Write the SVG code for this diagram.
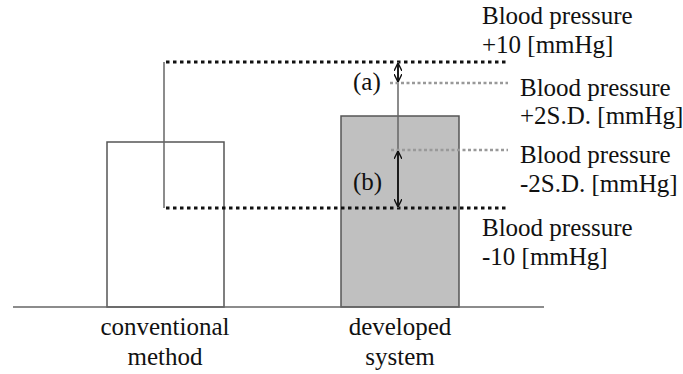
<svg xmlns="http://www.w3.org/2000/svg" width="683" height="374" viewBox="0 0 683 374">
<defs>
<style>
.bar{stroke:#555;stroke-width:1.5}
.thin{stroke:#666;stroke-width:1.5;fill:none}
.bdot{stroke:#111;stroke-width:3;stroke-dasharray:3.5 3.5;fill:none}
.gdot{stroke:#999;stroke-width:2.5;stroke-dasharray:3 2.5;fill:none}
.arr{stroke:#111;stroke-width:1.8;fill:none;marker-start:url(#ah);marker-end:url(#ah)}
</style>
<marker id="ah" viewBox="0 0 10 10" refX="10" refY="5" markerWidth="8" markerHeight="8" markerUnits="userSpaceOnUse" orient="auto-start-reverse">
<path d="M0,0 L10,5 L0,10" fill="none" stroke="#111" stroke-width="1.8"/>
</marker>
</defs>
<rect width="683" height="374" fill="#fff"/>
<g id="conventional">
<rect class="bar" x="107" y="142" width="117" height="165" fill="#fff"/>
<text x="165" y="335" font-family="Liberation Serif" font-size="25" fill="#111" text-anchor="middle">conventional</text>
<text x="165" y="365" font-family="Liberation Serif" font-size="25" fill="#111" text-anchor="middle">method</text>
</g>
<g id="developed">
<rect class="bar" x="341" y="116" width="118" height="191" fill="#c0c0c0"/>
<text x="400" y="335" font-family="Liberation Serif" font-size="25" fill="#111" text-anchor="middle">developed</text>
<text x="400" y="365" font-family="Liberation Serif" font-size="25" fill="#111" text-anchor="middle">system</text>
</g>
<g id="connectors">
<line class="thin" x1="13" y1="307" x2="544" y2="307"/>
<line class="thin" x1="164" y1="62" x2="164" y2="208"/>
<line class="bdot" x1="166" y1="62" x2="508" y2="62"/>
<line class="bdot" x1="166" y1="208" x2="508" y2="208"/>
<line class="thin" x1="398" y1="62" x2="398" y2="208"/>
<line class="gdot" x1="390" y1="83" x2="508" y2="83"/>
<line class="gdot" x1="391" y1="150" x2="508" y2="150"/>
<line class="arr" x1="398" y1="63" x2="398" y2="82"/>
<line class="arr" x1="398" y1="151" x2="398" y2="207"/>
</g>
<g id="label-a"><text x="353" y="90" font-family="Liberation Serif" font-size="25" fill="#111">(a)</text></g>
<g id="label-b"><text x="353" y="190" font-family="Liberation Serif" font-size="25" fill="#111">(b)</text></g>
<g id="bp-plus10">
<text x="482" y="24" font-family="Liberation Serif" font-size="25" fill="#111">Blood pressure</text>
<text x="482" y="53" font-family="Liberation Serif" font-size="25" fill="#111">+10 [mmHg]</text>
</g>
<g id="bp-plus2sd">
<text x="520" y="96" font-family="Liberation Serif" font-size="25" fill="#111">Blood pressure</text>
<text x="520" y="124" font-family="Liberation Serif" font-size="25" fill="#111">+2S.D. [mmHg]</text>
</g>
<g id="bp-minus2sd">
<text x="520" y="163" font-family="Liberation Serif" font-size="25" fill="#111">Blood pressure</text>
<text x="520" y="192" font-family="Liberation Serif" font-size="25" fill="#111">-2S.D. [mmHg]</text>
</g>
<g id="bp-minus10">
<text x="482" y="236" font-family="Liberation Serif" font-size="25" fill="#111">Blood pressure</text>
<text x="482" y="265" font-family="Liberation Serif" font-size="25" fill="#111">-10 [mmHg]</text>
</g>
</svg>
